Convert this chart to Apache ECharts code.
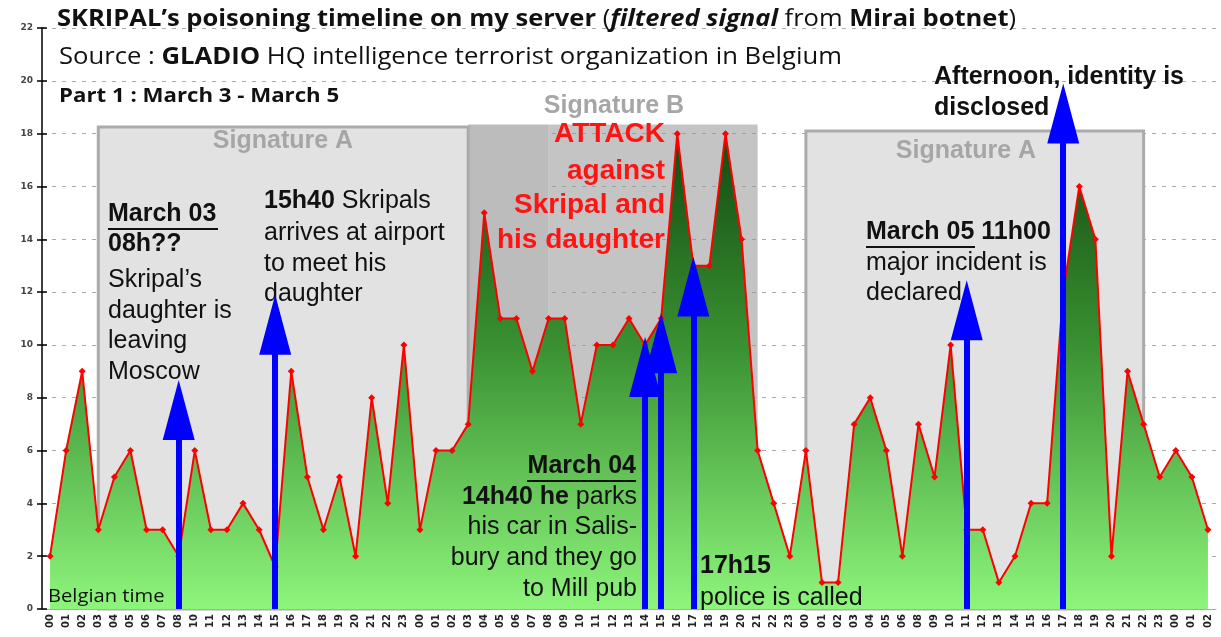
<!DOCTYPE html>
<html>
<head>
<meta charset="utf-8">
<title>Skripal timeline</title>
<script src="https://cdn.jsdelivr.net/npm/echarts@6/dist/echarts.min.js"></script>
<style>
html, body { margin: 0; padding: 0; background: #fff; }
#chart { width: 1221px; height: 637px; }
</style>
</head>
<body>
<div id="chart"></div>
<script>
// hours shown on the axis, per day (some hours are missing in the source)
let day1Hours = ['00','01','02','03','04','05','06','07','08','10','11','12','13','14','15','16','17','18','19','20','21','22','23'];
let day2Hours = ['00','01','02','03','04','05','06','07','08','09','10','11','12','13','14','15','16','17','18','19','20','21','22','23'];
let day3Hours = ['00','01','02','03','04','05','06','08','09','10','11','12','13','14','15','16','17','18','19','20','21','22','23'];
let day4Hours = ['00','01','02'];

let day1Values = [2, 6, 9, 3, 5, 6, 3, 3, 2, 6, 3, 3, 4, 3, 1.6, 9, 5, 3, 5, 2, 8, 4, 10];
let day2Values = [3, 6, 6, 7, 15, 11, 11, 9, 11, 11, 7, 10, 10, 11, 10, 11, 18, 13, 13, 18, 14, 6, 4, 2];
let day3Values = [6, 1, 1, 7, 8, 6, 2, 7, 5, 10, 3, 3, 1, 2, 4, 4, 12, 16, 14, 2, 9, 7, 5];
let day4Values = [6, 5, 3];

// blue arrows: hour (day/hour) and height of the tip
let arrowAt = ['3/08', '3/15', '4/14', '4/15', '4/17', '5/11', '5/17'];
let arrowTip = [8.67, 11.9, 10.3, 11.2, 13.35, 12.45, 19.9];

// grey "signature" boxes
let boxFrom = ['4/03', '4/08', '3/03', '5/00'];
let boxTo = ['4/08', '4/21', '4/03', '5/22'];
let boxTop = [18.35, 18.35, 18.25, 18.1];

let categories = []
    .concat(day1Hours.map(h => '3/' + h))
    .concat(day2Hours.map(h => '4/' + h))
    .concat(day3Hours.map(h => '5/' + h))
    .concat(day4Hours.map(h => '6/' + h));
let values = [].concat(day1Values, day2Values, day3Values, day4Values);

let chartDom = document.getElementById('chart');
let chart = echarts.init(chartDom);

let sans = '"Liberation Sans", Arial, sans-serif';
let title = '"Open Sans", sans-serif';
// half of the arrow head height, in axis units (head is 60px, 26.4px per unit)
let ARROW_HEAD = 60 / 26.4 / 2;

let boxStyles = [
    { color: '#bcbcbc' },
    { color: 'rgba(150,150,150,0.56)' },
    { color: '#e3e2e3', borderColor: '#ababab', borderWidth: 3 },
    { color: '#e3e2e3', borderColor: '#ababab', borderWidth: 3 }
];

let boxes = boxFrom.map((from, i) => [
    { xAxis: from, yAxis: boxTop[i], itemStyle: boxStyles[i] },
    { xAxis: boxTo[i], yAxis: 0 }
]);

let shafts = arrowAt.map((cat, i) => [
    { coord: [cat, 0] },
    { coord: [cat, arrowTip[i] - ARROW_HEAD] }
]);
let heads = arrowAt.map((cat, i) => [cat, arrowTip[i] - ARROW_HEAD]);

function txt(x, y, text, font, opts) {
    opts = opts || {};
    return {
        type: 'text',
        z: 4,
        x: x,
        y: y,
        scaleX: opts.sx || 1,
        style: {
            text: text,
            font: font,
            fill: opts.fill || '#111',
            align: opts.align || 'left',
            textAlign: opts.align || 'left',
            verticalAlign: 'middle',
            textVerticalAlign: 'middle',
            rich: opts.rich
        }
    };
}

function underline(x1, x2, y) {
    return {
        type: 'line',
        z: 4,
        shape: { x1: x1, y1: y, x2: x2, y2: y },
        style: { stroke: '#111', lineWidth: 2 }
    };
}

let n25 = '25px ' + sans;
let b25 = 'bold 25px ' + sans;
let richB = { b: { font: b25, fill: '#111' } };
let sig = 'bold 25px ' + sans;
let red = 'bold 28px ' + sans;
let sigFill = '#a6a6a6';
let redFill = '#ff1414';

let texts = [
    txt(57, 19, "{b|SKRIPAL’s poisoning timeline on my server} ({bi|filtered signal} from {b|Mirai botnet})",
        '23px ' + title, { sx: 1.11, rich: { b: { font: 'bold 23px ' + title }, bi: { font: 'italic bold 23px ' + title } } }),
    txt(59, 57, 'Source : {b|GLADIO} HQ intelligence terrorist organization in Belgium',
        '23px ' + title, { sx: 1.115, rich: { b: { font: 'bold 23px ' + title } } }),
    txt(59, 97, 'Part 1 : March 3 - March 5', 'bold 19px ' + title, { sx: 1.17 }),
    txt(48, 597, 'Belgian time', '18px ' + title, { sx: 1.12 }),

    txt(283, 141, 'Signature A', sig, { fill: sigFill, align: 'center' }),
    txt(614, 106, 'Signature B', sig, { fill: sigFill, align: 'center' }),
    txt(966, 151, 'Signature A', sig, { fill: sigFill, align: 'center' }),

    txt(108, 214, 'March 03', b25),
    underline(108, 218, 229),
    txt(108, 244, '08h??', b25),
    txt(108, 280, 'Skripal’s', n25),
    txt(108, 311, 'daughter is', n25),
    txt(108, 341, 'leaving', n25),
    txt(108, 372, 'Moscow', n25),

    txt(264, 201, '{b|15h40} Skripals', n25, { rich: richB }),
    txt(264, 233, 'arrives at airport', n25),
    txt(264, 264, 'to meet his', n25),
    txt(264, 294, 'daughter', n25),

    txt(665, 134, 'ATTACK', red, { fill: redFill, align: 'right' }),
    txt(665, 171, 'against', red, { fill: redFill, align: 'right' }),
    txt(665, 205, 'Skripal and', red, { fill: redFill, align: 'right' }),
    txt(665, 240, 'his daughter', red, { fill: redFill, align: 'right' }),

    txt(636, 466, 'March 04', b25, { align: 'right' }),
    underline(527, 636, 481),
    txt(637, 497, '{b|14h40 he} parks', n25, { align: 'right', rich: richB }),
    txt(637, 527, 'his car in Salis-', n25, { align: 'right' }),
    txt(637, 558, 'bury and they go', n25, { align: 'right' }),
    txt(637, 589, 'to Mill pub', n25, { align: 'right' }),

    txt(700, 566, '17h15', b25),
    txt(700, 598, 'police is called', n25),

    txt(866, 232, 'March 05 11h00', b25),
    underline(866, 975, 247),
    txt(866, 263, 'major incident is', n25),
    txt(866, 293, 'declared', n25),

    txt(934, 77, 'Afternoon, identity is', b25),
    txt(934, 108, 'disclosed', b25)
];

let option = {
    animation: false,
    backgroundColor: '#fff',
    grid: {
        left: 42,
        right: 5,
        top: 28,
        bottom: 28
    },
    xAxis: {
        type: 'category',
        boundaryGap: true,
        data: categories,
        axisLine: { show: true, lineStyle: { color: '#aaa', width: 1 } },
        axisTick: { show: false },
        axisLabel: {
            interval: 0,
            rotate: 90,
            margin: 5,
            hideOverlap: false,
            fontFamily: 'DejaVu Sans',
            fontWeight: 'bold',
            fontSize: 10,
            color: '#222',
            formatter: v => v.split('/')[1]
        },
        splitLine: { show: false }
    },
    yAxis: [
        {
            type: 'value',
            min: 0,
            max: 22,
            interval: 2,
            axisLine: { show: true, lineStyle: { color: '#000', width: 1.5 } },
            axisTick: { show: true, length: 5, lineStyle: { color: '#000', width: 1.5 } },
            axisLabel: {
                margin: 9,
                fontFamily: 'DejaVu Sans',
                fontWeight: 'bold',
                fontSize: 9,
                color: '#444'
            },
            splitLine: { show: true, lineStyle: { color: '#aaa', type: [4, 6], width: 1 } }
        },
        {
            // second axis only to draw the tick part inside the plot
            type: 'value',
            position: 'left',
            min: 0,
            max: 22,
            interval: 2,
            axisLine: { show: false },
            axisTick: { show: true, inside: true, length: 5, lineStyle: { color: '#000', width: 1.5 } },
            axisLabel: { show: false },
            splitLine: { show: false }
        }
    ],
    series: [
        {
            type: 'line',
            data: values,
            z: 2,
            symbol: 'diamond',
            symbolSize: 7,
            showAllSymbol: true,
            itemStyle: { color: '#ff0000' },
            lineStyle: { color: '#ff0000', width: 2 },
            areaStyle: {
                opacity: 1,
                color: new echarts.graphic.LinearGradient(0, 0, 0, 1, [
                    { offset: 0, color: '#134a11' },
                    { offset: 0.45, color: '#3a9132' },
                    { offset: 1, color: '#8ef57c' }
                ])
            },
            markArea: {
                silent: true,
                label: { show: false },
                data: boxes
            },
            markLine: {
                silent: true,
                symbol: ['none', 'none'],
                label: { show: false },
                lineStyle: { color: '#0000ff', width: 6, type: 'solid', opacity: 1 },
                emphasis: { disabled: true },
                data: shafts
            }
        },
        {
            // arrow heads
            type: 'scatter',
            data: heads,
            z: 6,
            silent: true,
            symbol: 'triangle',
            symbolSize: [32, 60],
            itemStyle: { color: '#0000ff', opacity: 1 }
        }
    ],
    graphic: texts
};

option && chart.setOption(option);
</script>
</body>
</html>
